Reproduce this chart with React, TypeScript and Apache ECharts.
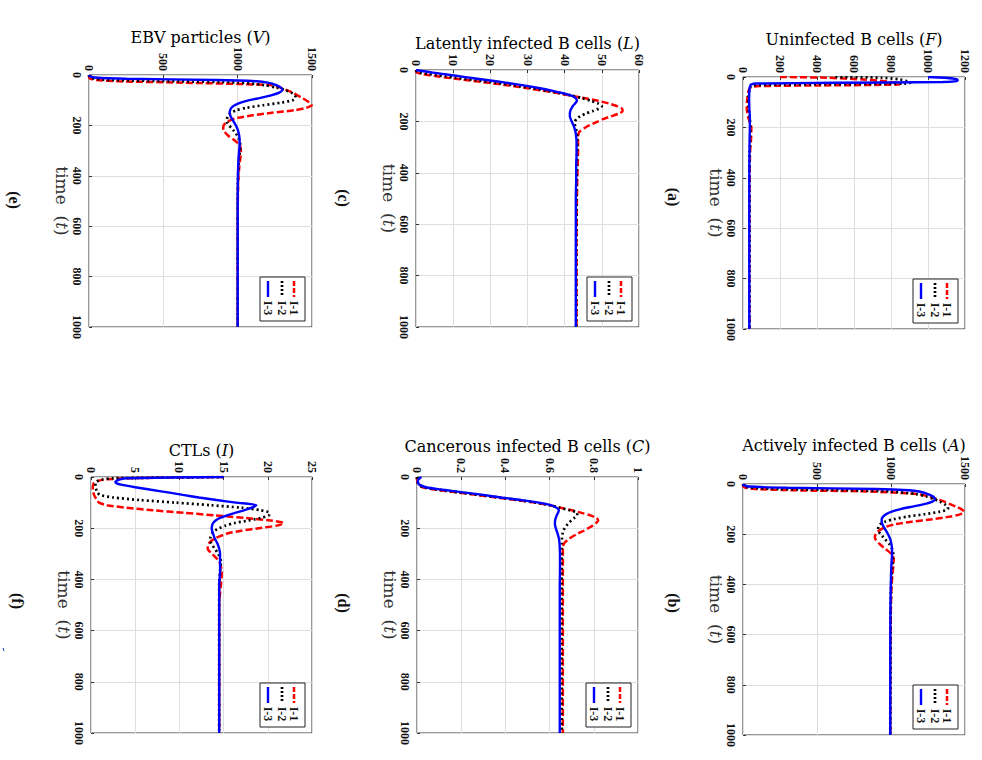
import React, { useEffect, useRef } from "react";
import * as echarts from "echarts";

// common time grid (t) used by panels b–f
const T = [0, 5, 10, 15, 20, 25, 30, 40, 50, 60, 70, 80, 90, 100, 110, 120, 130, 140, 150, 160, 170, 180, 190, 200, 210, 220, 240, 260, 280, 300, 330, 370, 420, 500, 700, 1000];
// time grid for panel (a)
const tF = [0, 3, 10, 15, 20, 23, 26, 30, 33, 36, 40, 50, 80, 120, 160, 200, 240, 300, 400, 600, 1000];

// (a) Uninfected B cells F
const F1 = [200, 450, 650, 740, 800, 830, 850, 840, 500, 90, 45, 32, 24, 20, 28, 45, 44, 38, 36, 35, 35];
const F2 = [500, 750, 850, 880, 900, 905, 880, 200, 50, 42, 40, 35, 30, 30, 36, 40, 39, 36, 35, 35, 35];
const F3 = [1000, 1090, 1160, 1160, 1080, 500, 70, 42, 40, 39, 37, 35, 33, 34, 37, 37, 36, 35, 34, 34, 34];

// (b) Actively infected B cells A
const A1 = [0, 0, 3, 15, 80, 350, 850, 1180, 1260, 1310, 1360, 1400, 1440, 1475, 1493, 1470, 1400, 1280, 1140, 1030, 970, 935, 910, 897, 891, 895, 925, 965, 1005, 1018, 1015, 1008, 1003, 999, 996, 995];
const A2 = [0, 2, 10, 50, 250, 700, 1000, 1170, 1240, 1290, 1330, 1360, 1382, 1385, 1330, 1230, 1110, 1020, 960, 928, 915, 913, 918, 930, 945, 960, 990, 1008, 1015, 1013, 1008, 1003, 1000, 998, 996, 995];
const A3 = [0, 5, 40, 300, 900, 1120, 1190, 1250, 1285, 1297, 1280, 1225, 1145, 1065, 1005, 968, 947, 937, 937, 942, 950, 960, 970, 980, 988, 995, 1003, 1007, 1007, 1005, 1002, 1000, 998, 996, 995, 995];

// (c) Latently infected B cells L
const L1 = [0, 0, 0.3, 1.5, 3.5, 6, 8.5, 14, 19.5, 25, 29.5, 34, 38, 41.8, 45.5, 49, 51.8, 54, 55.4, 55.6, 54.5, 52.5, 50.5, 49, 47.5, 46, 44, 43.6, 43.6, 43.6, 43.6, 43.5, 43.4, 43.3, 43.2, 43.2];
const L2 = [0, 0.2, 1, 3, 5.5, 8, 10.5, 16, 21.5, 26.5, 31, 35, 38.8, 42, 44.8, 47, 49, 50, 49.2, 47.5, 45.6, 44.2, 43.2, 42.8, 42.7, 42.9, 43.2, 43.4, 43.4, 43.4, 43.3, 43.3, 43.2, 43.2, 43.1, 43.1];
const L3 = [0, 2, 4.5, 7, 9.5, 12, 14.5, 19.5, 24.5, 29, 33, 36.5, 39.5, 41.8, 43, 43.3, 42.8, 42.2, 41.8, 41.5, 41.4, 41.4, 41.6, 41.9, 42.2, 42.5, 42.9, 43.1, 43.2, 43.2, 43.2, 43.1, 43.1, 43, 43, 43];

// (d) Cancerous infected B cells C
const C1 = [0, 0, 0, 0.001, 0.002, 0.004, 0.007, 0.025, 0.09, 0.18, 0.27, 0.36, 0.45, 0.53, 0.6, 0.65, 0.7, 0.745, 0.785, 0.812, 0.82, 0.81, 0.795, 0.775, 0.755, 0.73, 0.69, 0.665, 0.66, 0.66, 0.66, 0.66, 0.66, 0.66, 0.66, 0.66];
const C2 = [0, 0, 0.001, 0.002, 0.003, 0.005, 0.008, 0.03, 0.1, 0.19, 0.28, 0.37, 0.46, 0.54, 0.6, 0.645, 0.69, 0.725, 0.725, 0.712, 0.698, 0.686, 0.676, 0.668, 0.662, 0.659, 0.656, 0.655, 0.655, 0.655, 0.655, 0.655, 0.655, 0.655, 0.655, 0.655];
const C3 = [0.02, 0.012, 0.006, 0.004, 0.004, 0.006, 0.01, 0.04, 0.12, 0.21, 0.3, 0.38, 0.47, 0.55, 0.605, 0.632, 0.642, 0.638, 0.632, 0.628, 0.625, 0.624, 0.625, 0.628, 0.632, 0.636, 0.642, 0.645, 0.646, 0.647, 0.647, 0.647, 0.646, 0.646, 0.646, 0.646];

// (e) EBV particles V
const V1 = [0, 0, 2, 10, 50, 200, 600, 1220, 1290, 1330, 1370, 1400, 1430, 1460, 1485, 1498, 1460, 1380, 1230, 1100, 1000, 950, 920, 906, 903, 906, 935, 980, 1015, 1022, 1018, 1010, 1004, 1001, 1000, 1000];
const V2 = [0, 2, 10, 40, 150, 600, 1000, 1180, 1260, 1320, 1360, 1385, 1390, 1370, 1290, 1170, 1060, 990, 955, 938, 930, 926, 930, 942, 958, 972, 996, 1012, 1018, 1016, 1010, 1005, 1002, 1000, 1000, 1000];
const V3 = [0, 5, 40, 250, 850, 1130, 1200, 1260, 1290, 1300, 1280, 1230, 1160, 1080, 1020, 980, 958, 949, 946, 950, 958, 968, 978, 988, 996, 1002, 1010, 1013, 1013, 1010, 1006, 1003, 1001, 1000, 1000, 1000];

// (f) CTLs I
const I1 = [15, 4, 1.5, 0.8, 0.5, 0.3, 0.25, 0.2, 0.2, 0.25, 0.35, 0.5, 0.7, 0.9, 1.8, 4, 7, 10.5, 14, 17.5, 20.3, 21.8, 21, 19, 17, 15.5, 14, 13.3, 13.2, 13.7, 14.5, 14.8, 14.7, 14.5, 14.5, 14.5];
const I2 = [15, 2.5, 1.2, 0.8, 0.6, 0.5, 0.5, 0.5, 0.6, 0.7, 1, 2.5, 5.5, 9.5, 13.5, 17, 19.2, 20.2, 20.1, 19.2, 17.8, 16.2, 15.2, 14.5, 14, 13.7, 13.5, 13.6, 14, 14.4, 14.7, 14.6, 14.5, 14.5, 14.5, 14.5];
const I3 = [15, 4, 3.2, 2.9, 2.75, 2.9, 3.4, 5, 6.8, 8.7, 10.4, 12.2, 14.2, 16.4, 18.7, 18.2, 17.3, 16.3, 15.4, 14.6, 14.1, 13.8, 13.7, 13.65, 13.7, 13.8, 14, 14.3, 14.5, 14.6, 14.6, 14.6, 14.5, 14.5, 14.5, 14.5];

const legendNames = ["I-1", "I-2", "I-3"];
const timeTicks = { min: 0, max: 1000, step: 200 };

const panels = [
  { name: "EBV particles (", sym: "V", t: T, s: [V1, V2, V3], max: 1500, step: 500, g: [89, 75, 223, 252], ty: 37, lab: "(e)", lx: 14, ly: 200 },
  { name: "Latently infected B cells (", sym: "L", t: T, s: [L1, L2, L3], max: 60, step: 10, g: [416, 70, 223, 257], ty: 43, lab: "(c)", lx: 343, ly: 198 },
  { name: "Uninfected B cells (", sym: "F", t: tF, s: [F1, F2, F3], max: 1200, step: 200, g: [743, 77, 222, 252], ty: 39, lab: "(a)", lx: 673, ly: 197 },
  { name: "CTLs (", sym: "I", t: T, s: [I1, I2, I3], max: 25, step: 5, g: [91, 477, 221, 256], ty: 450, lab: "(f)", lx: 17, ly: 601 },
  { name: "Cancerous infected B cells (", sym: "C", t: T, s: [C1, C2, C3], max: 1, step: 0.2, g: [417, 477, 221, 256], ty: 446, lab: "(d)", lx: 343, ly: 603 },
  { name: "Actively infected B cells (", sym: "A", t: T, s: [A1, A2, A3], max: 1500, step: 500, g: [743, 484, 222, 251], ty: 445, lab: "(b)", lx: 673, ly: 603 },
];

const SERIF = "'Liberation Serif', 'DejaVu Serif', serif";
const WIDE = "'DejaVu Serif', 'Liberation Serif', serif";
const lineStyles = [
  { color: "#ff0000", width: 2.5, type: [7, 3] as any },
  { color: "#000000", width: 2.7, type: [2, 3] as any },
  { color: "#0000ff", width: 2.4, type: "solid" as any },
];

const fmt = (v: number) => String(Math.round(v * 100) / 100);

export default function App() {
  const ref = useRef<HTMLDivElement>(null);
  useEffect(() => {
    if (!ref.current) return;
    const chart = echarts.init(ref.current, undefined, { renderer: "svg" });
    const grids: any[] = [];
    const xAxes: any[] = [];
    const yAxes: any[] = [];
    const series: any[] = [];
    const graphics: any[] = [];
    const titleRich = {
      n: { fontFamily: WIDE, fontSize: 16, color: "#333" },
      i: { fontFamily: WIDE, fontSize: 16, fontStyle: "italic", color: "#333" },
    };
    const nameRich = {
      n: { fontFamily: WIDE, fontSize: 17, color: "#333" },
      i: { fontFamily: WIDE, fontSize: 17, fontStyle: "italic", color: "#333" },
    };
    panels.forEach((p, i) => {
      const [gl, gt, gw, gh] = p.g;
      grids.push({ left: gl, top: gt, width: gw, height: gh, show: true, borderColor: "#333", borderWidth: 1, backgroundColor: "#fff" });
      xAxes.push({
        gridIndex: i, type: "value", position: "top", min: 0, max: p.max, interval: p.step,
        axisLine: { show: false },
        axisTick: { show: true, inside: true, length: 3, lineStyle: { color: "#333" } },
        splitLine: { show: true, lineStyle: { color: "#dedede", width: 1 } },
        axisLabel: { rotate: -90, margin: 4, formatter: fmt, fontFamily: SERIF, fontWeight: "bold", fontSize: 12, color: "#111", showMinLabel: true, showMaxLabel: true, hideOverlap: false },
      });
      yAxes.push({
        gridIndex: i, type: "value", inverse: true, min: timeTicks.min, max: timeTicks.max, interval: timeTicks.step,
        name: "{n|time  (}{i|t}{n|)}", nameLocation: "middle", nameRotate: -90, nameGap: 18,
        nameTextStyle: { rich: nameRich },
        axisLine: { show: false },
        axisTick: { show: true, inside: true, length: 3, lineStyle: { color: "#333" } },
        splitLine: { show: true, lineStyle: { color: "#dedede", width: 1 } },
        axisLabel: { rotate: -90, margin: 6, formatter: fmt, fontFamily: SERIF, fontWeight: "bold", fontSize: 12, color: "#111", showMinLabel: true, showMaxLabel: true, hideOverlap: false },
      });
      p.s.forEach((vals, k) => {
        series.push({
          type: "line", name: legendNames[k], xAxisIndex: i, yAxisIndex: i,
          data: p.t.map((tt, j) => [vals[j], tt]),
          showSymbol: false, smooth: 0.25, lineStyle: lineStyles[k], z: 2 + k, silent: true,
        });
      });
      // title
      graphics.push({
        type: "text", x: gl + gw / 2, y: p.ty,
        style: { text: `{n|${p.name}}{i|${p.sym}}{n|)}`, rich: titleRich, align: "center", verticalAlign: "middle" },
      });
      // panel letter
      graphics.push({
        type: "text", x: p.lx, y: p.ly, rotation: -Math.PI / 2,
        style: { text: p.lab, font: `bold 16px ${SERIF}`, fill: "#111", align: "center", verticalAlign: "middle" },
      });
      // legend
      const right = gl + gw - 7;
      const bottom = gt + gh - 6;
      const bx = right - 45, by = bottom - 44;
      graphics.push({ type: "rect", shape: { x: bx, y: by, width: 45, height: 44 }, style: { fill: "#fff", stroke: "#222", lineWidth: 1 }, z: 50 });
      const cols = [right - 11, right - 23, right - 37];
      legendNames.forEach((nm, k) => {
        graphics.push({
          type: "line", shape: { x1: cols[k], y1: by + 4, x2: cols[k], y2: by + 20 },
          style: { stroke: lineStyles[k].color, lineWidth: lineStyles[k].width, lineDash: k === 0 ? [5, 2] : k === 1 ? [2, 2] : null }, z: 51,
        });
        graphics.push({
          type: "text", x: cols[k], y: by + 31, rotation: -Math.PI / 2,
          style: { text: nm, font: `bold 12px ${SERIF}`, fill: "#111", align: "center", verticalAlign: "middle" }, z: 51,
        });
      });
    });
    graphics.push({ type: "line", shape: { x1: 3, y1: 648, x2: 4, y2: 651 }, style: { stroke: "#2233cc", lineWidth: 1 } });
    chart.setOption({
      animation: false,
      backgroundColor: "#fff",
      grid: grids,
      xAxis: xAxes,
      yAxis: yAxes,
      series,
      graphic: { elements: graphics },
    });
    return () => chart.dispose();
  }, []);
  return <div ref={ref} style={{ position: "absolute", left: 0, top: 0, width: 982, height: 760 }} />;
}
